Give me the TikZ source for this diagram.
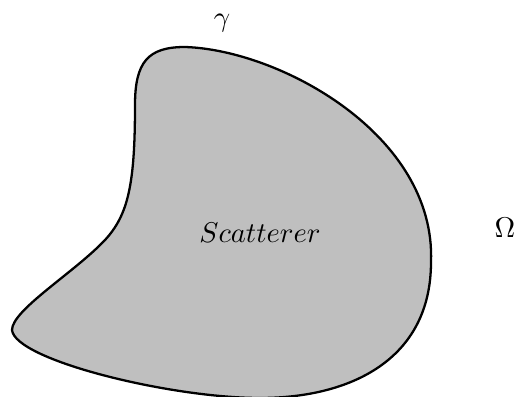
\documentclass[tikz,border=0pt]{standalone}
\usepackage{amsmath,amssymb}
\usepackage{tikz}

\begin{document}
\begin{tikzpicture}[x=0.35pt, y=-0.35pt, body/.style={draw, fill=black!25, line width=0.8pt}, lbl/.style={inner sep=1pt}]
  \useasboundingbox (0,0) rectangle (515,397);
  \draw[body] (135,105) .. controls (135,62) and (148,47) .. (185,47)
    .. controls (280,50) and (436,135) .. (431,262)
    .. controls (431,360) and (350,398) .. (260,398)
    .. controls (170,398) and (15,360) .. (12,330)
    .. controls (12,310) and (75,272) .. (105,240)
    .. controls (128,215) and (135,185) .. cycle;
  \node[lbl] (gamma) at (222,23) {$\gamma$};
  \node[lbl] (scat) at (260,233) {$Scatterer$};
  \node[lbl] (omega) at (505,228) {$\Omega$};
\end{tikzpicture}
\end{document}
